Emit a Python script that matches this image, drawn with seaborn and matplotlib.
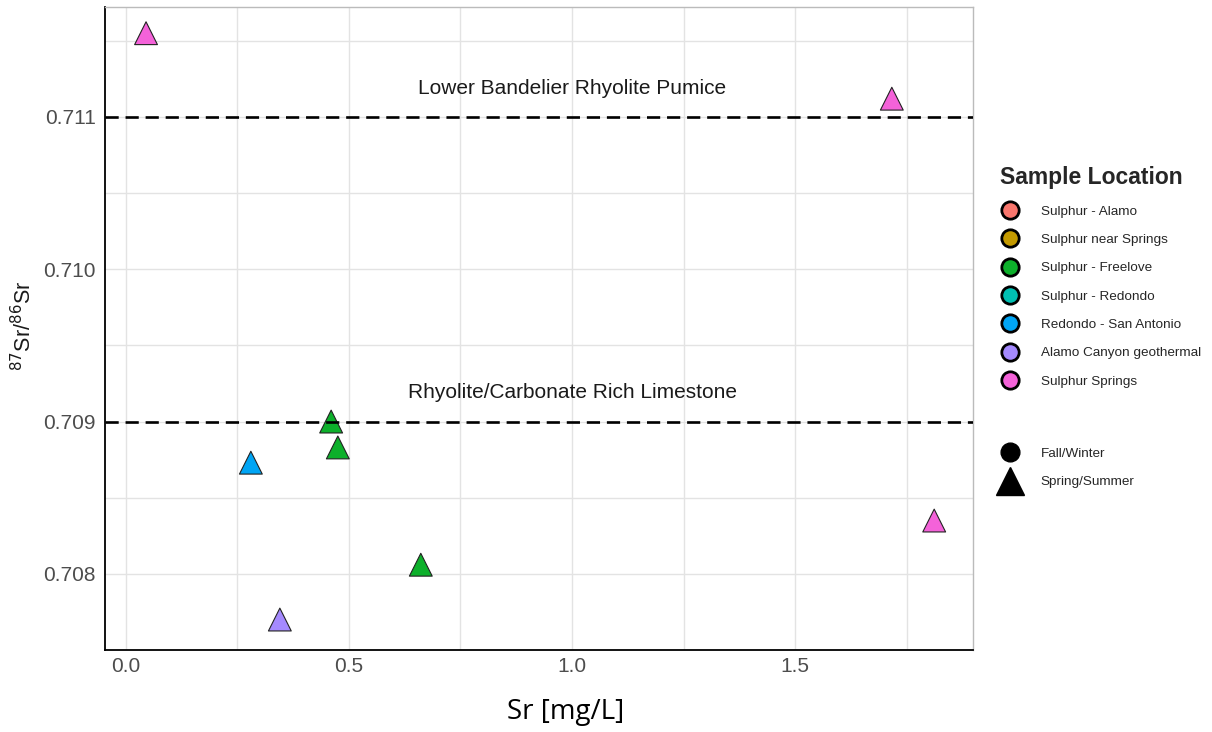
import matplotlib
matplotlib.use("Agg")
import matplotlib.pyplot as plt
import seaborn as sns
import pandas as pd
from matplotlib.lines import Line2D

# ---- data ----
locations = ["Sulphur - Alamo", "Sulphur near Springs", "Sulphur - Freelove",
             "Sulphur - Redondo", "Redondo - San Antonio", "Alamo Canyon geothermal",
             "Sulphur Springs"]
loc_colors = ["#F8766D", "#C49A00", "#0DB02B", "#00BFB2", "#00A5F5", "#A58AFF", "#F462D9"]
seasons = ["Fall/Winter", "Spring/Summer"]

sr_mgL = [0.045, 1.717, 1.812, 0.460, 0.475, 0.280, 0.661, 0.345]
sr_ratio = [0.71155, 0.71112, 0.70835, 0.70900, 0.70883, 0.70873, 0.70806, 0.70770]
sample_loc = ["Sulphur Springs", "Sulphur Springs", "Sulphur Springs",
              "Sulphur - Freelove", "Sulphur - Freelove", "Redondo - San Antonio",
              "Sulphur - Freelove", "Alamo Canyon geothermal"]
sample_season = ["Spring/Summer"] * 8

ref_values = [0.711, 0.709]
ref_labels = ["Lower Bandelier Rhyolite Pumice", "Rhyolite/Carbonate Rich Limestone"]
ref_label_y = [0.71119, 0.70919]
ref_label_x = [1.0, 1.0]

df = pd.DataFrame({"Sr": sr_mgL, "ratio": sr_ratio, "loc": sample_loc, "season": sample_season})
palette = dict(zip(locations, loc_colors))

sns.set_style("white")
plt.rcParams["font.family"] = ["Liberation Sans", "DejaVu Sans"]

W, H = 1212, 732
fig = plt.figure(figsize=(W / 100, H / 100), dpi=100)
ax = fig.add_axes([105 / W, 1 - 650 / H, (973 - 105) / W, (650 - 7) / H])

sns.scatterplot(data=df, x="Sr", y="ratio", hue="loc", style="season",
                palette=palette, hue_order=locations,
                markers={"Fall/Winter": "o", "Spring/Summer": "^"},
                s=270, edgecolor="#222222", linewidth=0.8, legend=False, ax=ax, zorder=3)

for v in ref_values:
    ax.axhline(v, color="black", lw=1.9, dashes=(5, 2.6), zorder=4)
for t, xx, yy in zip(ref_labels, ref_label_x, ref_label_y):
    ax.text(xx, yy, t, ha="center", va="center", fontsize=15, color="#1a1a1a", zorder=2)

ax.set_xlim(-0.047, 1.899)
ax.set_ylim(0.707501, 0.711722)
ax.set_xticks([0.0, 0.5, 1.0, 1.5])
ax.set_xticklabels(["0.0", "0.5", "1.0", "1.5"])
ax.set_yticks([0.708, 0.709, 0.710, 0.711])
ax.set_yticklabels(["0.708", "0.709", "0.710", "0.711"])
ax.set_xticks([0.25, 0.75, 1.25, 1.75], minor=True)
ax.set_yticks([0.7075, 0.7085, 0.7095, 0.7105, 0.7115], minor=True)
ax.grid(True, which="both", color="#E3E3E3", lw=1.0, zorder=0)
ax.set_axisbelow(True)
ax.tick_params(axis="both", which="major", labelsize=15, labelcolor="#4D4D4D",
               length=3, color="#333333", width=0.8)
ax.tick_params(axis="x", which="major", pad=2)
ax.tick_params(axis="both", which="minor", length=0)

for side in ["left", "bottom"]:
    ax.spines[side].set_color("black")
    ax.spines[side].set_linewidth(1.3)
for side in ["top", "right"]:
    ax.spines[side].set_color("#BBBBBB")
    ax.spines[side].set_linewidth(1.0)

ax.set_xlabel("")
ax.set_ylabel("")
fig.text(566 / W, 1 - 712 / H, "Sr [mg/L]", fontsize=20, ha="center", va="center",
         family=["Open Sans", "DejaVu Sans"], color="black")
fig.text(24 / W, 1 - 326 / H, r"$^{87}$Sr/$^{86}$Sr", fontsize=15.5, color="#1a1a1a",
         rotation=90, ha="center", va="center")

# ---- legends ----
loc_handles = [Line2D([0], [0], marker="o", linestyle="", markersize=12.5,
                      markerfacecolor=c, markeredgecolor="black", markeredgewidth=2.0)
               for c in loc_colors]
leg1 = fig.legend(loc_handles, locations, title="Sample Location",
                  loc="upper left", bbox_to_anchor=(995 / W, 1 - 161 / H),
                  frameon=False, fontsize=9.7, labelspacing=1.18, handletextpad=1.5,
                  borderaxespad=0, handlelength=1.5,
                  title_fontproperties={"weight": "bold", "size": 16.5})
leg1._legend_box.align = "left"

shape_handles = [Line2D([0], [0], marker="o", linestyle="", markersize=13.5, color="black"),
                 Line2D([0], [0], marker="^", linestyle="", markersize=20, color="black")]
leg2 = fig.legend(shape_handles, seasons, loc="upper left",
                  bbox_to_anchor=(995 / W, 1 - 442 / H), frameon=False, fontsize=9.7,
                  labelspacing=1.2, handletextpad=1.5, borderaxespad=0, handlelength=1.5)

fig.savefig("out.png", dpi=100)
